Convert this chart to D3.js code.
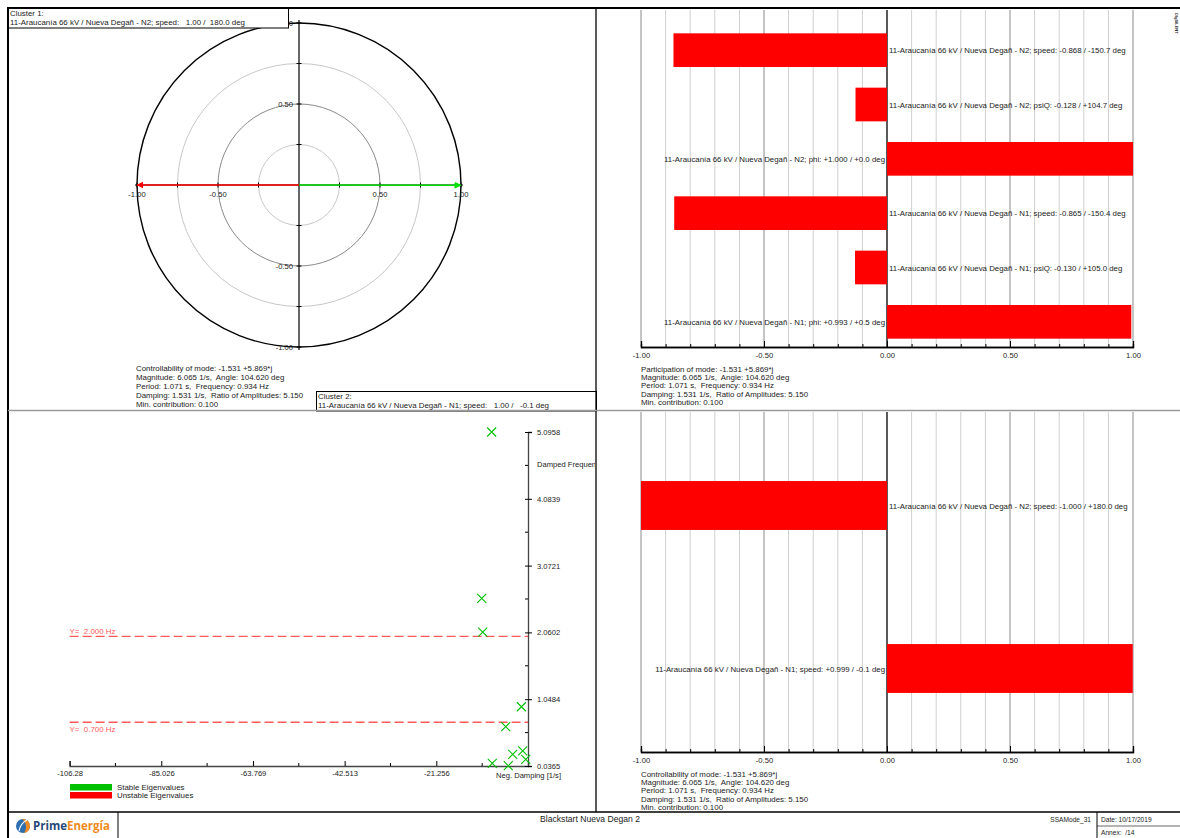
<!DOCTYPE html>
<html>
<head>
<meta charset="utf-8">
<script src="https://cdn.jsdelivr.net/npm/d3@7"></script>
<style>
  body { margin: 0; background: #fff; }
  svg { display: block; font-family: "Liberation Sans", Arial, sans-serif; }
  text { fill: #222; white-space: pre; }
</style>
</head>
<body>
<svg id="page" width="1180" height="838"></svg>
<script>
// ---- Mode shape vectors (cluster plot) ----
const vecNames = ["N2", "N1"];
const vecMagnitude = [1.00, 1.00];
const vecAngleDeg = [180.0, -0.1];
const vecColors = ["#ff0000", "#00dd00"];
const clusterTitles = ["Cluster 1:", "Cluster 2:"];
const clusterLines = [
  "11-Araucanía 66 kV / Nueva Degañ - N2; speed:   1.00 /  180.0 deg",
  "11-Araucanía 66 kV / Nueva Degañ - N1; speed:   1.00 /   -0.1 deg"
];
const polarTicks = [-1, -0.5, 0.5, 1];
const polarRings = [0.25, 0.5, 0.75, 1];

// ---- Participation factors ----
const partBus = ["N2", "N2", "N2", "N1", "N1", "N1"];
const partVar = ["speed", "psiQ", "phi", "speed", "psiQ", "phi"];
const partValues = [-0.868, -0.128, 1.000, -0.865, -0.130, 0.993];
const partAngles = ["-150.7", "+104.7", "+0.0", "-150.4", "+105.0", "+0.5"];

// ---- Controllability ----
const ctrlBus = ["N2", "N1"];
const ctrlVar = ["speed", "speed"];
const ctrlValues = [-1.000, 0.999];
const ctrlAngles = ["+180.0", "-0.1"];

// ---- Eigenvalues (neg. damping [1/s], damped frequency [Hz]) ----
const eigDamping = [-8.42, -10.73, -10.50, -1.531, -5.17, -3.55, -1.23, -0.53, -8.28, -4.57];
const eigFreq = [5.0958, 2.577, 2.065, 0.934, 0.632, 0.214, 0.264, 0.138, 0.077, 0.041];
const eigXTicks = [-106.28, -85.026, -63.769, -42.513, -21.256];
const eigXTickLabels = ["-106.28", "-85.026", "-63.769", "-42.513", "-21.256"];
const eigXMinor = [-95.654, -74.397, -53.141, -31.885, -10.628];
const eigYTicks = [0.0365, 1.0484, 2.0602, 3.0721, 4.0839, 5.0958];
const eigYTickLabels = ["0.0365", "1.0484", "2.0602", "3.0721", "4.0839", "5.0958"];
const eigYMinor = [0.5425, 1.5543, 2.5662, 3.578, 4.5899];
const freqLimits = [2.000, 0.700];
const legendNames = ["Stable Eigenvalues", "Unstable Eigenvalues"];
const legendColors = ["#00c000", "#ff0000"];

// ---- Mode summary ----
const modeLines = [
  "-1.531 +5.869*j",
  "Magnitude: 6.065 1/s,  Angle: 104.620 deg",
  "Period: 1.071 s,  Frequency: 0.934 Hz",
  "Damping: 1.531 1/s,  Ratio of Amplitudes: 5.150",
  "Min. contribution: 0.100"
];

const svg = d3.select("#page");
const FS = 7.6;      // ticks
const FSL = 7.85;    // bar labels
const FSB = 7.9;     // info blocks
const loc = d3.formatLocale({ decimal: ".", thousands: ",", grouping: [3], currency: ["", ""], minus: "-" });
const fmt2 = loc.format(".2f");
const fmt3 = loc.format(".3f");
const fmtSigned = v => (v >= 0 ? "+" : "") + fmt3(v);
const busText = b => `11-Araucanía 66 kV / Nueva Degañ - ${b}`;

function textBlock(g, x, y, lines, lh) {
  g.selectAll(null).data(lines).join("text")
    .attr("x", x).attr("y", (d, i) => y + i * lh)
    .attr("font-size", FSB).text(d => d);
}

const defs = svg.append("defs");
defs.append("clipPath").attr("id", "clipEig").append("rect")
  .attr("x", 9).attr("y", 411).attr("width", 586).attr("height", 400);

// ================= Cluster (polar) plot =================
{
  const cx = 299, cy = 185;
  const r = d3.scaleLinear().domain([0, 1]).range([0, 162]);
  const g = svg.append("g");
  g.selectAll("circle.ring").data(polarRings).join("circle")
    .attr("cx", cx).attr("cy", cy).attr("r", d => r(d)).attr("fill", "none")
    .attr("stroke", d => d === 1 ? "#000" : d === 0.5 ? "#8a8a8a" : "#c8c8c8")
    .attr("stroke-width", d => d === 1 ? 1.4 : 1);
  // axes
  g.append("line").attr("x1", cx).attr("x2", cx).attr("y1", cy - r(1) - 3).attr("y2", cy + r(1) + 3)
    .attr("stroke", "#000").attr("stroke-width", 1.2);
  g.append("line").attr("x1", cx - r(1) - 2).attr("x2", cx + r(1) + 2).attr("y1", cy).attr("y2", cy)
    .attr("stroke", "#000").attr("stroke-width", 1.2);
  const tickVals = [-1, -0.75, -0.5, -0.25, 0.25, 0.5, 0.75, 1];
  g.selectAll(null).data(tickVals).join("line")
    .attr("x1", d => cx + r(d)).attr("x2", d => cx + r(d)).attr("y1", cy - 2.5).attr("y2", cy + 2.5)
    .attr("stroke", "#000");
  g.selectAll(null).data(tickVals).join("line")
    .attr("y1", d => cy - r(d)).attr("y2", d => cy - r(d)).attr("x1", cx - 2.5).attr("x2", cx + 2.5)
    .attr("stroke", "#000");
  g.selectAll(null).data(polarTicks).join("text")
    .attr("x", d => cx + r(d)).attr("y", cy + 11.5).attr("text-anchor", "middle")
    .attr("font-size", FS).text(d => fmt2(d));
  g.selectAll(null).data(polarTicks).join("text")
    .attr("x", cx - 6).attr("y", d => cy - r(d) + 3).attr("text-anchor", "end")
    .attr("font-size", FS).text(d => fmt2(d));

  // mode shape arrows
  vecColors.forEach((c, i) => {
    defs.append("marker").attr("id", "arr" + i).attr("viewBox", "0 0 10 10")
      .attr("refX", 9).attr("refY", 5).attr("markerWidth", 4.5).attr("markerHeight", 4.5)
      .attr("orient", "auto-start-reverse").attr("markerUnits", "strokeWidth")
      .append("path").attr("d", "M0,0 L10,5 L0,10 z").attr("fill", c);
  });
  g.selectAll(null).data(vecMagnitude).join("line")
    .attr("x1", cx).attr("y1", cy)
    .attr("x2", (d, i) => cx + r(d) * Math.cos(vecAngleDeg[i] * Math.PI / 180))
    .attr("y2", (d, i) => cy - r(d) * Math.sin(vecAngleDeg[i] * Math.PI / 180))
    .attr("stroke", (d, i) => vecColors[i]).attr("stroke-width", 1.6)
    .attr("marker-end", (d, i) => `url(#arr${i})`);

  textBlock(g, 136, 371, ["Controllability of mode: " + modeLines[0], ...modeLines.slice(1)], 9);

  // cluster boxes
  const boxes = [[8.5, 8.5], [316.5, 391.5]];
  boxes.forEach(([bx, by], i) => {
    g.append("rect").attr("x", bx).attr("y", by).attr("width", 280).attr("height", 19.5)
      .attr("fill", "#fff").attr("stroke", "#000").attr("stroke-width", 1);
    g.append("text").attr("x", bx + 1.5).attr("y", by + 7.5).attr("font-size", FSB).text(clusterTitles[i]);
    g.append("text").attr("x", bx + 1.5).attr("y", by + 16.5).attr("font-size", FSB).text(clusterLines[i]);
  });
}

// ================= Horizontal bar panels =================
function barPanel(top, axisY, bandRange, padInner, bus, vars, values, angles, titleWord) {
  const x = d3.scaleLinear().domain([-1, 1]).range([641, 1133]);
  const idx = values.map((d, i) => i);
  const y = d3.scaleBand().domain(idx).range(bandRange).paddingInner(padInner).paddingOuter(padInner / 2);
  const g = svg.append("g");
  const grid = d3.range(-10, 11).map(k => k / 10);
  g.selectAll(null).data(grid).join("line")
    .attr("x1", d => x(d)).attr("x2", d => x(d)).attr("y1", top).attr("y2", axisY)
    .attr("stroke", d => d === 0 ? "#000" : (Math.abs(d) === 0.5 || Math.abs(d) === 1) ? "#8a8a8a" : "#cfcfcf")
    .attr("stroke-width", d => d === 0 ? 1.3 : 1);
  g.selectAll("rect.bar").data(values).join("rect")
    .attr("x", d => x(Math.min(0, d))).attr("width", d => Math.abs(x(d) - x(0)))
    .attr("y", (d, i) => y(i)).attr("height", y.bandwidth()).attr("fill", "#ff0000");
  g.selectAll("text.lbl").data(values).join("text")
    .attr("x", d => d < 0 ? x(0) + 2 : x(0) - 2)
    .attr("y", (d, i) => y(i) + y.bandwidth() / 2 + 3)
    .attr("text-anchor", d => d < 0 ? "start" : "end")
    .attr("font-size", FSL)
    .text((d, i) => `${busText(bus[i])}; ${vars[i]}: ${fmtSigned(d)} / ${angles[i]} deg`);
  // axis: minor and major ticks
  const minor = d3.axisBottom(x).tickValues(grid).tickSize(-3).tickFormat("");
  const major = d3.axisBottom(x).tickValues([-1, -0.5, 0, 0.5, 1]).tickSize(-6).tickPadding(6).tickFormat(fmt2);
  const ga = g.append("g").attr("transform", `translate(0,${axisY})`).call(minor);
  const gb = g.append("g").attr("transform", `translate(0,${axisY})`).call(major);
  [ga, gb].forEach(a => {
    a.select(".domain").attr("stroke", "#000").attr("stroke-width", 1.3);
    a.selectAll(".tick line").attr("stroke", "#000");
  });
  gb.selectAll(".tick text").attr("font-size", FS).attr("fill", "#222").attr("font-family", null);
  textBlock(g, 641, axisY + 25, [titleWord + " of mode: " + modeLines[0], ...modeLines.slice(1)], 8.2);
}
barPanel(10, 347, [23, 349], 0.38, partBus, partVar, partValues, partAngles, "Participation");
barPanel(412, 752, [424, 750], 0.7, ctrlBus, ctrlVar, ctrlValues, ctrlAngles, "Controllability");

// ================= Eigenvalue plot =================
{
  const x = d3.scaleLinear().domain([-106.28, 0]).range([69.6, 528]);
  const y = d3.scaleLinear().domain([0.0365, 5.0958]).range([766, 432]);
  const g = svg.append("g").attr("clip-path", "url(#clipEig)");
  // frequency limit lines
  g.selectAll(null).data(freqLimits).join("line")
    .attr("x1", x(-106.28)).attr("x2", x(0)).attr("y1", d => y(d)).attr("y2", d => y(d))
    .attr("stroke", "#ff5a5a").attr("stroke-width", 1.4).attr("stroke-dasharray", "9,4");
  g.selectAll(null).data(freqLimits).join("text")
    .attr("x", x(-106.28)).attr("y", (d, i) => i === 0 ? y(d) - 2.5 : y(d) + 10)
    .attr("font-size", FSB).style("fill", "#ff5a5a")
    .text(d => "Y=  " + fmt3(d) + " Hz");

  // x axis
  const xa = g.append("g").attr("transform", "translate(0,766)")
    .call(d3.axisBottom(x).tickValues(eigXTicks).tickSize(-5).tickPadding(5)
      .tickFormat((d, i) => eigXTickLabels[i]));
  xa.select(".domain").attr("stroke", "#444").attr("stroke-width", 1.3);
  xa.selectAll(".tick line").attr("stroke", "#000");
  xa.selectAll(".tick text").attr("font-size", FS).attr("fill", "#222").attr("font-family", null);
  g.selectAll(null).data(eigXMinor).join("line")
    .attr("x1", d => x(d)).attr("x2", d => x(d)).attr("y1", 763).attr("y2", 766).attr("stroke", "#000");
  g.append("text").attr("x", 496).attr("y", 778).attr("font-size", FS).text("Neg. Damping [1/s]");

  // y axis
  const ya = g.append("g").attr("transform", `translate(${x(0)},0)`)
    .call(d3.axisRight(y).tickValues(eigYTicks).tickSize(4).tickPadding(5)
      .tickFormat((d, i) => eigYTickLabels[i]));
  ya.select(".domain").attr("stroke", "#444").attr("stroke-width", 1.3);
  ya.selectAll(".tick line").attr("stroke", "#000").attr("x1", -3);
  ya.selectAll(".tick text").attr("font-size", FS).attr("fill", "#222").attr("font-family", null);
  g.selectAll(null).data(eigYMinor).join("line")
    .attr("x1", x(0) - 3).attr("x2", x(0)).attr("y1", d => y(d)).attr("y2", d => y(d)).attr("stroke", "#000");
  g.append("text").attr("x", 537).attr("y", 467).attr("font-size", FS).text("Damped Frequency [Hz]");

  // eigenvalue markers
  const s = 4.5;
  g.selectAll("path.eig").data(eigDamping).join("path")
    .attr("d", (d, i) => {
      const px = x(d), py = y(eigFreq[i]);
      return `M${px - s},${py - s}L${px + s},${py + s}M${px - s},${py + s}L${px + s},${py - s}`;
    })
    .attr("stroke", "#00c000").attr("stroke-width", 1.1).attr("fill", "none");

  // legend
  g.selectAll(null).data(legendNames).join("rect")
    .attr("x", 70).attr("y", (d, i) => 784 + i * 8).attr("width", 42).attr("height", 6.5)
    .attr("fill", (d, i) => legendColors[i]);
  g.selectAll(null).data(legendNames).join("text")
    .attr("x", 117).attr("y", (d, i) => 790 + i * 8).attr("font-size", FSB).text(d => d);
}

// ================= Page frame & title block =================
{
  const g = svg.append("g").attr("stroke", "#000");
  g.append("line").attr("x1", 7).attr("x2", 1180).attr("y1", 8).attr("y2", 8).attr("stroke-width", 2);
  g.append("line").attr("x1", 8).attr("x2", 8).attr("y1", 7).attr("y2", 838).attr("stroke-width", 2);
  g.append("line").attr("x1", 596).attr("x2", 596).attr("y1", 8).attr("y2", 812).attr("stroke-width", 1.3);
  g.append("line").attr("x1", 8).attr("x2", 1180).attr("y1", 410.5).attr("y2", 410.5)
    .attr("stroke", "#9a9a9a").attr("stroke-width", 1.6);
  g.append("line").attr("x1", 8).attr("x2", 1180).attr("y1", 812).attr("y2", 812).attr("stroke-width", 1.6);
  g.append("line").attr("x1", 118).attr("x2", 118).attr("y1", 812).attr("y2", 838).attr("stroke-width", 1);
  g.append("line").attr("x1", 1097).attr("x2", 1097).attr("y1", 812).attr("y2", 838).attr("stroke-width", 1);
  g.append("line").attr("x1", 1097).attr("x2", 1180).attr("y1", 826).attr("y2", 826).attr("stroke-width", 0.6);

  const t = svg.append("g");
  t.append("text").attr("x", 590).attr("y", 822).attr("text-anchor", "middle").attr("font-size", 8.6)
    .text("Blackstart Nueva Degan 2");
  t.append("text").attr("x", 1091).attr("y", 822).attr("text-anchor", "end").attr("font-size", 6.6).text("SSAMode_31");
  t.append("text").attr("x", 1101).attr("y", 822).attr("font-size", 6.6).text("Date: 10/17/2019");
  t.append("text").attr("x", 1101).attr("y", 835).attr("font-size", 6.6).text("Annex:  /14");
  t.append("text").attr("transform", "translate(1175,13) rotate(90)").attr("font-size", 4).attr("font-weight", "bold")
    .text("DIgSILENT");

  // company mark
  const lg = svg.append("g").attr("transform", "translate(23,826)");
  lg.append("circle").attr("r", 7).attr("fill", "#2e6fb0");
  lg.append("path").attr("d", "M-1,-7 A7,7 0 0,1 7,0 A7,7 0 0,1 1,7 C4,3 4,-3 -1,-7 Z").attr("fill", "#f28c1e");
  lg.append("path").attr("d", "M-4,5 C-3,0 0,-4 4,-6").attr("stroke", "#fff").attr("stroke-width", 1.2).attr("fill", "none");
  const lt = svg.append("text").attr("x", 33).attr("y", 830).attr("font-size", 11.5).attr("font-weight", "bold")
    .attr("font-family", "'Open Sans', sans-serif");
  lt.append("tspan").style("fill", "#27497a").text("Prime");
  lt.append("tspan").style("fill", "#f08a1c").text("Energía");
}
</script>
</body>
</html>
